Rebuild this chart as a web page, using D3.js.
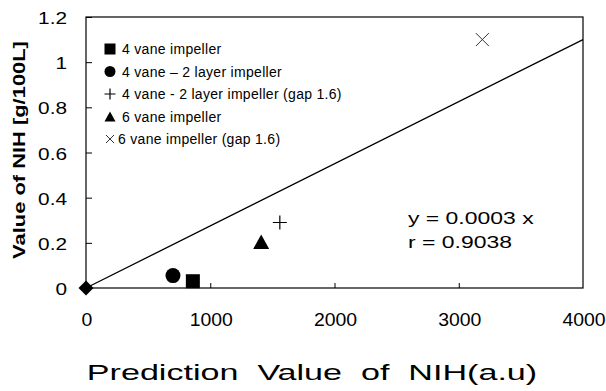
<!DOCTYPE html>
<html>
<head>
<meta charset="utf-8">
<script src="https://cdn.jsdelivr.net/npm/d3@7"></script>
<style>
  html, body { margin: 0; padding: 0; background: #fff; }
  svg { display: block; font-family: "Liberation Sans", Arial, sans-serif; }
</style>
</head>
<body>
<svg id="chart" width="606" height="391"></svg>
<script>
// ---- data ----
const seriesNames = [
  "4 vane impeller",
  "4 vane \u2013 2 layer impeller",
  "4 vane - 2 layer impeller (gap 1.6)",
  "6 vane impeller",
  "6 vane impeller (gap 1.6)"
];
const seriesSymbols = ["square", "circle", "plus", "triangle", "cross"];
const pointX = [860, 700, 1560, 1410, 3190];
const pointY = [0.03, 0.055, 0.29, 0.205, 1.10];
const originX = [0];
const originY = [0];
const trendX = [0, 4000];
const trendY = [0, 1.1];
const xTicks = [0, 1000, 2000, 3000, 4000];
const xTickLabels = ["0", "1000", "2000", "3000", "4000"];
const yTicks = [0, 0.2, 0.4, 0.6, 0.8, 1.0, 1.2];
const yTickLabels = ["0", "0.2", "0.4", "0.6", "0.8", "1", "1.2"];
const equationLines = ["y = 0.0003 x", "r = 0.9038"];
const xTitle = "Prediction  Value  of  NIH(a.u)";
const yTitle = "Value of NIH [g/100L]";

// ---- layout ----
const svg = d3.select("#chart");
const L = 86, R = 583, T = 17, B = 288;
const x = d3.scaleLinear().domain([0, 4000]).range([L, R]);
const y = d3.scaleLinear().domain([0, 1.2]).range([B, T]);

// frame
svg.append("rect").attr("x", L).attr("y", T).attr("width", R - L).attr("height", B - T)
  .attr("fill", "none").attr("stroke", "#000").attr("stroke-width", 1.2);

// y axis (inward ticks)
const yAxis = d3.axisRight(y).tickValues(yTicks).tickSize(6).tickFormat("");
const gy = svg.append("g").attr("transform", `translate(${L},0)`).call(yAxis);
gy.select(".domain").remove();
gy.selectAll("line").attr("stroke", "#000");
// x axis (inward ticks)
const xAxis = d3.axisTop(x).tickValues(xTicks.slice(1, 4)).tickSize(5).tickFormat("");
const gx = svg.append("g").attr("transform", `translate(0,${B})`).call(xAxis);
gx.select(".domain").remove();
gx.selectAll("line").attr("stroke", "#000");

// tick labels (horizontally stretched like the scanned original)
svg.append("g").selectAll("text").data(yTicks).join("text")
  .attr("transform", d => `translate(67,${y(d) + 7}) scale(1.3,1)`)
  .attr("text-anchor", "end").attr("font-size", 16)
  .attr("fill", "#000")
  .text((d, i) => yTickLabels[i]);
svg.append("g").selectAll("text").data(xTicks).join("text")
  .attr("transform", d => `translate(${x(d) + 1},326) scale(1.08,1)`)
  .attr("text-anchor", "middle").attr("font-size", 18)
  .attr("fill", "#000")
  .text((d, i) => xTickLabels[i]);

// axis titles
svg.append("text")
  .attr("transform", `translate(25,150) rotate(-90) scale(1.37,1)`)
  .attr("text-anchor", "middle").attr("font-size", 16).attr("font-weight", "bold")
  .attr("fill", "#000")
  .text(yTitle);
svg.append("text")
  .attr("transform", `translate(312,380) scale(1.55,1)`)
  .attr("text-anchor", "middle").attr("font-size", 22)
  .attr("fill", "#000")
  .style("white-space", "pre")
  .text(xTitle);

// trend line
svg.append("path")
  .datum(trendX.map((d, i) => [d, trendY[i]]))
  .attr("d", d3.line().x(d => x(d[0])).y(d => y(d[1])))
  .attr("fill", "none").attr("stroke", "#000").attr("stroke-width", 1.3);

// symbol drawing
function drawSymbol(g, type, cx, cy, s) {
  if (type === "square") {
    g.append("rect").attr("x", cx - s / 2).attr("y", cy - s / 2).attr("width", s).attr("height", s).attr("fill", "#000");
  } else if (type === "circle") {
    g.append("circle").attr("cx", cx).attr("cy", cy).attr("r", s / 2).attr("fill", "#000");
  } else if (type === "triangle") {
    const h = s * 0.9;
    g.append("path").attr("d", `M${cx},${cy - h / 2}L${cx + s / 2},${cy + h / 2}L${cx - s / 2},${cy + h / 2}Z`).attr("fill", "#000");
  } else if (type === "plus") {
    g.append("path").attr("d", `M${cx - s / 2},${cy}H${cx + s / 2}M${cx},${cy - s / 2}V${cy + s / 2}`)
      .attr("stroke", "#000").attr("stroke-width", 1.2).attr("fill", "none");
  } else if (type === "cross") {
    g.append("path").attr("d", `M${cx - s / 2},${cy - s / 2}L${cx + s / 2},${cy + s / 2}M${cx + s / 2},${cy - s / 2}L${cx - s / 2},${cy + s / 2}`)
      .attr("stroke", "#333").attr("stroke-width", 1).attr("fill", "none");
  } else if (type === "diamond") {
    g.append("path").attr("d", `M${cx},${cy - s / 2}L${cx + s / 2},${cy}L${cx},${cy + s / 2}L${cx - s / 2},${cy}Z`).attr("fill", "#000");
  }
}

// points
const pts = svg.append("g");
const pointSizes = [14, 15, 14, 16, 13];
pointX.forEach((px, i) => drawSymbol(pts, seriesSymbols[i], x(px), y(pointY[i]), pointSizes[i]));
originX.forEach((px, i) => drawSymbol(pts, "diamond", x(px), y(originY[i]), 15));

// legend
const leg = svg.append("g");
const legendSizes = [11, 11, 11, 11, 8];
seriesNames.forEach((name, i) => {
  const cy = 49 + i * 22.5;
  drawSymbol(leg, seriesSymbols[i], 110, cy, legendSizes[i]);
  leg.append("text").attr("x", i === 4 ? 118 : 122).attr("y", cy + 5)
    .attr("font-size", 14).attr("letter-spacing", 0.3).attr("fill", "#000").text(name);
});

// equation
equationLines.forEach((t, i) => {
  svg.append("text").attr("transform", `translate(408,${224 + i * 24}) scale(1.35,1)`)
    .attr("font-size", 17).attr("fill", "#000").text(t);
});
</script>
</body>
</html>
